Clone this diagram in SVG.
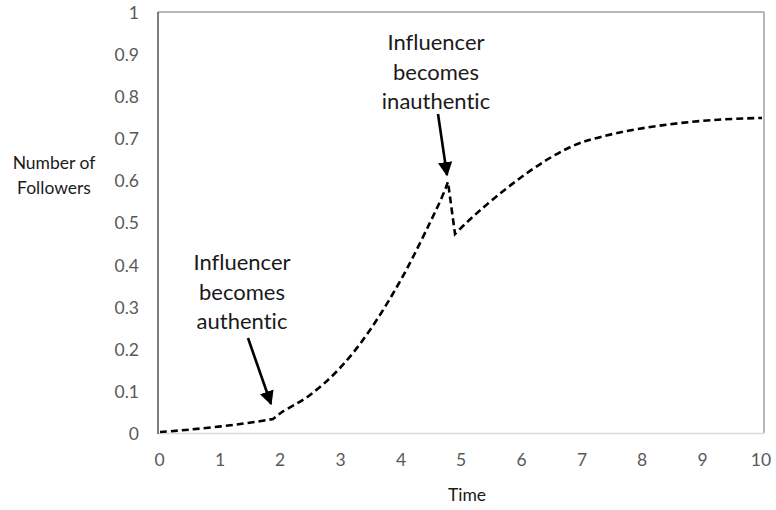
<svg xmlns="http://www.w3.org/2000/svg" width="776" height="510" viewBox="0 0 776 510">
<defs>
<style>
text{font-variant-ligatures:none;font-feature-settings:"liga" 0}
.tick{font-family:Lato,"Open Sans","Liberation Sans",sans-serif;font-size:17.5px;fill:#595959}
.yt{text-anchor:end}
.xt{text-anchor:middle}
.lbl{font-family:Lato,"Open Sans","Liberation Sans",sans-serif;font-size:17.5px;fill:#1a1a1a;text-anchor:middle}
.ann{font-family:Lato,"Open Sans","Liberation Sans",sans-serif;font-size:22px;fill:#1a1a1a;text-anchor:middle}
.curve{fill:none;stroke:#000;stroke-width:2.6;stroke-dasharray:7 4}
.arrow{stroke:#000;stroke-width:2.6;fill:none}
</style>
<marker id="ah" viewBox="0 0 10 10" refX="9" refY="5" markerWidth="5.5" markerHeight="5.5" orient="auto" markerUnits="strokeWidth">
<path d="M0,0 L10,5 L0,10 Z" fill="#000"/>
</marker>
</defs>
<rect width="776" height="510" fill="#fff"/>
<g id="plot-frame">
<line x1="158" y1="12" x2="764" y2="12" stroke="#a0a0a0" stroke-width="1.5"/>
<line x1="764" y1="12" x2="764" y2="433" stroke="#a0a0a0" stroke-width="1.5"/>
<line x1="158" y1="433.5" x2="764" y2="433.5" stroke="#d9d9d9" stroke-width="1.5"/>
<line x1="158" y1="12" x2="158" y2="434" stroke="#3a3a3a" stroke-width="1.3"/>
</g>
<g id="y-ticks" class="tick yt">
<text x="139" y="19">1</text>
<text x="139" y="61">0.9</text>
<text x="139" y="103">0.8</text>
<text x="139" y="145">0.7</text>
<text x="139" y="187">0.6</text>
<text x="139" y="229">0.5</text>
<text x="139" y="272">0.4</text>
<text x="139" y="314">0.3</text>
<text x="139" y="356">0.2</text>
<text x="139" y="398">0.1</text>
<text x="139" y="440">0</text>
</g>
<g id="x-ticks" class="tick xt">
<text x="159.5" y="466">0</text>
<text x="220" y="466">1</text>
<text x="280" y="466">2</text>
<text x="340.5" y="466">3</text>
<text x="401" y="466">4</text>
<text x="461" y="466">5</text>
<text x="521.5" y="466">6</text>
<text x="582" y="466">7</text>
<text x="642" y="466">8</text>
<text x="702.5" y="466">9</text>
<text x="761" y="466">10</text>
</g>
<g id="y-label" class="lbl">
<text x="54" y="169">Number of</text>
<text x="54" y="194">Followers</text>
</g>
<g id="x-label" class="lbl">
<text x="467" y="501">Time</text>
</g>
<g id="connectors">
<path id="followers-curve" class="curve" d="M160,432 C190,430 240,425 273,419 L282,412 C288.2,408 300.3,402.3 310,395 C319.7,387.7 330,378.8 340,368 C350,357.2 359.5,345.3 370,330 C380.5,314.7 391.8,296.3 403,276 C414.2,255.7 429.5,223.7 437,208 C444.5,192.3 446.2,186.3 448,182 L455,234 C475,213 540,156 583,142 C623,129 690,119 762,118"/>
<line class="arrow" x1="248" y1="338" x2="271" y2="404" marker-end="url(#ah)"/>
<line class="arrow" x1="438" y1="114" x2="447" y2="175" marker-end="url(#ah)"/>
</g>
<g id="annotation-authentic" class="ann">
<text x="242" y="270">Influencer</text>
<text x="242" y="300">becomes</text>
<text x="242" y="329">authentic</text>
</g>
<g id="annotation-inauthentic" class="ann">
<text x="436" y="50">Influencer</text>
<text x="436" y="80">becomes</text>
<text x="436" y="109">inauthentic</text>
</g>
</svg>
